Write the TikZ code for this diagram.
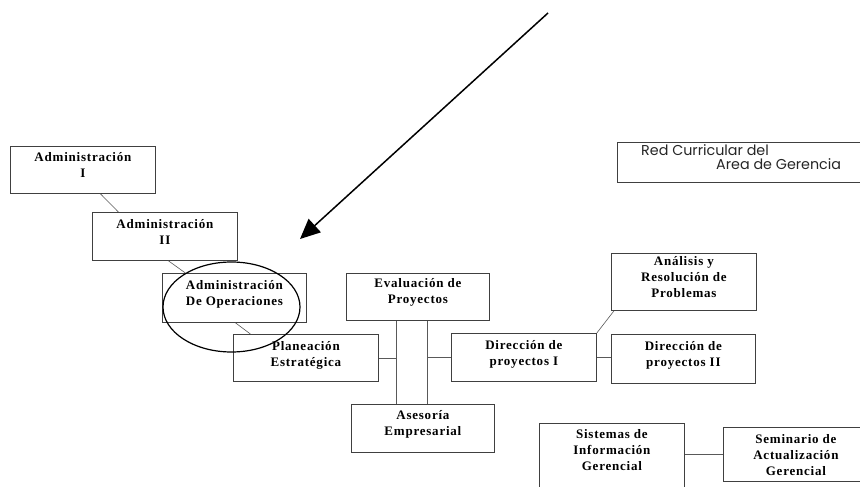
\documentclass[tikz,border=0pt]{standalone}
\usepackage{fontspec}
\usetikzlibrary{positioning,arrows.meta}
\newfontfamily\cursofont[LetterSpace=6]{Liberation Serif}
\newfontfamily\redfont{Poppins}

\tikzset{
	curso/.style={draw=black!75, line width=0.8pt, inner sep=0pt, anchor=north west},
	cursotxt/.style={font=\cursofont\bfseries\fontsize{13}{16}\selectfont, align=center, inner sep=0pt},
	enlace/.style={draw=black!65, line width=0.6pt},
	redtxt/.style={font=\redfont\fontsize{14.3}{16}\selectfont, text=black!85, inner sep=0pt, anchor=base west},
	flecha/.style={line width=1.5pt, -{Triangle[length=20pt,width=18pt]}},
	marca/.style={line width=1.2pt}
}

\begin{document}
\begin{tikzpicture}[x=1pt,y=-1pt]
	
	\useasboundingbox (0,0) rectangle (860,487);
	\clip (0,0) rectangle (860,487);
	
	% cajas
	\node[curso, minimum width=145pt, minimum height=47pt] (adm1) at (10,146) {};
	\node[curso, minimum width=145pt, minimum height=48pt] (adm2) at (92,212) {};
	\node[curso, minimum width=144pt, minimum height=49pt] (ops) at (162,273) {};
	\node[curso, minimum width=145pt, minimum height=47pt] (plan) at (233,334) {};
	\node[curso, minimum width=143pt, minimum height=47pt] (eval) at (346,273) {};
	\node[curso, minimum width=143pt, minimum height=48pt] (ases) at (351,404) {};
	\node[curso, minimum width=145pt, minimum height=48pt] (dir1) at (451,333) {};
	\node[curso, minimum width=145pt, minimum height=57pt] (ana) at (611,253) {};
	\node[curso, minimum width=144pt, minimum height=49pt] (dir2) at (611,334) {};
	\node[curso, minimum width=145pt, minimum height=90pt] (sis) at (539,423) {};
	\node[curso, minimum width=145pt, minimum height=54pt] (sem) at (723,427) {};
	\node[curso, minimum width=260pt, minimum height=40pt] (red) at (617,142) {};
	
	% textos
	\node[cursotxt, below=6.5pt of adm1.north] (adm1t) {Administración\\I};
	\node[cursotxt, below=7pt of adm2.north] (adm2t) {Administración\\II};
	\node[cursotxt, below=7.5pt of ops.north] (opst) {Administración\\De Operaciones};
	\node[cursotxt, below=7.5pt of plan.north] (plant) {Planeación\\Estratégica};
	\node[cursotxt, below=5.5pt of eval.north] (evalt) {Evaluación de\\Proyectos};
	\node[cursotxt, below=6pt of ases.north] (asest) {Asesoría\\Empresarial};
	\node[cursotxt, below=7pt of dir1.north] (dir1t) {Dirección de\\proyectos I};
	\node[cursotxt, below=3pt of ana.north] (anat) {Análisis y\\Resolución de\\Problemas};
	\node[cursotxt, below=7pt of dir2.north] (dir2t) {Dirección de\\proyectos II};
	\node[cursotxt, below=6.5pt of sis.north] (sist) {Sistemas de\\Información\\Gerencial};
	\node[cursotxt, below=7.5pt of sem.north] (semt) {Seminario de\\Actualización\\Gerencial};
	
	\node[redtxt] (red1) at (641,155) {Red Curricular del};
	\node[redtxt] (red2) at (716,169) {Area de Gerencia};
	
	% enlaces
	\draw[enlace] ([xshift=17.5pt]adm1.south) -- ([xshift=-46.5pt]adm2.north);
	\draw[enlace] ([xshift=3.5pt]adm2.south) -- ([xshift=-49pt]ops.north);
	\draw[enlace] ([xshift=1pt]ops.south) -- ([xshift=-55.5pt]plan.north);
	
	\coordinate (v1) at ([xshift=-21.5pt]eval.south);
	\coordinate (v2) at ([xshift=9.5pt]eval.south);
	\draw[enlace] (v1) -- (v1 |- ases.north);
	\draw[enlace] (v2) -- (v2 |- ases.north);
	\draw[enlace] (plan.east) -- (plan.east -| v1);
	\draw[enlace] (dir1.west) -- (dir1.west -| v2);
	
	\draw[enlace] (dir1.north east) -- ([xshift=3pt]ana.south west);
	\draw[enlace] (dir1.east) -- (dir1.east -| dir2.west);
	\draw[enlace] (sem.west) -- (sem.west -| sis.east);
	
	% marca y flecha
	\draw[marca] (231.5,307) ellipse [x radius=68.5, y radius=45];
	
	\coordinate (flechaini) at (548,13);
	\coordinate (flechafin) at (300,239);
	\draw[flecha] (flechaini) -- (flechafin);
	
\end{tikzpicture}
\end{document}
